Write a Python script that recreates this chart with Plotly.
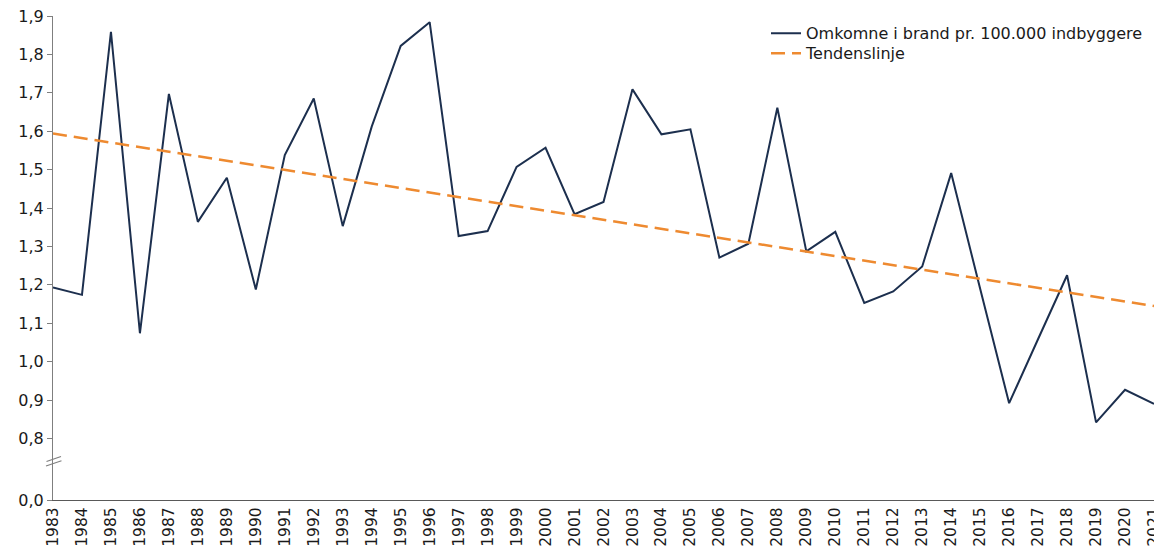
import plotly.graph_objects as go

years = list(range(1983, 2022))
deaths = [1.193, 1.174, 1.859, 1.074, 1.697, 1.364, 1.479, 1.188, 1.538, 1.685,
          1.353, 1.612, 1.822, 1.884, 1.327, 1.340, 1.507, 1.557, 1.384, 1.416,
          1.709, 1.592, 1.605, 1.271, 1.307, 1.661, 1.287, 1.338, 1.153, 1.183,
          1.248, 1.491, 1.190, 0.892, 1.059, 1.225, 0.842, 0.927, 0.890]
trend_years = [1983, 2021]
trend_vals = [1.594, 1.145]

main_ticks = [0.8, 0.9, 1.0, 1.1, 1.2, 1.3, 1.4, 1.5, 1.6, 1.7, 1.8, 1.9]
low_ticks = [0.0]

FONT = "DejaVu Sans"
FS = 16
OFF = 8  # page body margin of the html page
# target positions in screen pixels
plot_l, plot_r, plot_t, plot_b = 53, 1154, 16, 500
break_px = 460
W, H = 1162 - OFF, 546 - OFF
ml, mt = plot_l - OFF, plot_t - OFF
mr = W - (plot_r - OFF)
mb = H - (plot_b - OFF)
pw, ph = plot_r - plot_l, plot_b - plot_t
dom_split = (plot_b - break_px) / ph

fig = go.Figure()
fig.add_trace(go.Scatter(
    x=years, y=deaths, mode="lines", name="Omkomne i brand pr. 100.000 indbyggere",
    line=dict(color="#1c2f4e", width=2), xaxis="x", yaxis="y", legend="legend"))
fig.add_trace(go.Scatter(
    x=trend_years, y=trend_vals, mode="lines", name="Tendenslinje",
    line=dict(color="#ee8a30", width=2.5, dash="14px,7px"), xaxis="x", yaxis="y",
    legend="legend2"))
# empty trace so the lower (0,0) axis segment is drawn
fig.add_trace(go.Scatter(x=[None], y=[None], mode="lines", showlegend=False,
                         hoverinfo="skip", xaxis="x", yaxis="y2"))

def px2paper(xs, ys):
    return (xs - plot_l) / pw, (plot_b - ys) / ph

shapes = []
for (x0, y0, x1, y1) in [(46.5, 461.5, 61, 456.5), (46, 466, 61.5, 460.7)]:
    a0, b0 = px2paper(x0, y0)
    a1, b1 = px2paper(x1, y1)
    shapes.append(dict(type="line", xref="paper", yref="paper", x0=a0, y0=b0, x1=a1, y1=b1,
                       line=dict(color="#7f7f7f", width=1.2)))

tf = dict(size=FS, family=FONT, color="#1a1a1a")
xtf = dict(size=15.5, family=FONT, color="#1a1a1a")
leg_x = (766 - plot_l) / pw
leg_common = dict(x=leg_x, xanchor="left", yanchor="top", bgcolor="rgba(0,0,0,0)",
                  font=tf, itemwidth=30)
fig.update_layout(
    width=W, height=H,
    margin=dict(l=ml, r=mr, t=mt, b=mb, pad=0, autoexpand=False),
    paper_bgcolor="white", plot_bgcolor="white",
    separators=", ",
    font=dict(family=FONT, size=FS, color="#1a1a1a"),
    showlegend=True,
    legend=dict(y=1.02 - 10 / ph, **leg_common),
    legend2=dict(y=1.02 - 30 / ph, **leg_common),
    xaxis=dict(range=[1983, 2021], anchor="y2", tickmode="array", tickvals=years,
               ticktext=[str(y) for y in years], tickangle=-90, showgrid=False,
               showline=True, linecolor="#595959", linewidth=1.2, ticks="",
               zeroline=False, tickfont=xtf, automargin=False, ticklabeloverflow="allow"),
    yaxis=dict(domain=[dom_split, 1], range=[1.9 - (break_px - plot_t) / 384.1, 1.9],
               tickmode="array", tickvals=main_ticks, tickformat=".1f",
               showgrid=False, zeroline=False, showline=True, linecolor="#7f7f7f",
               linewidth=1.2, ticks="outside", ticklen=5, tickcolor="#7f7f7f",
               tickfont=tf, anchor="x", automargin=False, ticklabeloverflow="allow"),
    yaxis2=dict(domain=[0, dom_split], range=[0, 0.1], tickmode="array", tickvals=low_ticks,
                tickformat=".1f", showgrid=False, zeroline=False, showline=True,
                linecolor="#7f7f7f", linewidth=1.2, ticks="outside", ticklen=5,
                tickcolor="#7f7f7f", tickfont=tf, anchor="x", automargin=False,
                ticklabeloverflow="allow"),
    shapes=shapes,
)

fig.write_html("out.html")
